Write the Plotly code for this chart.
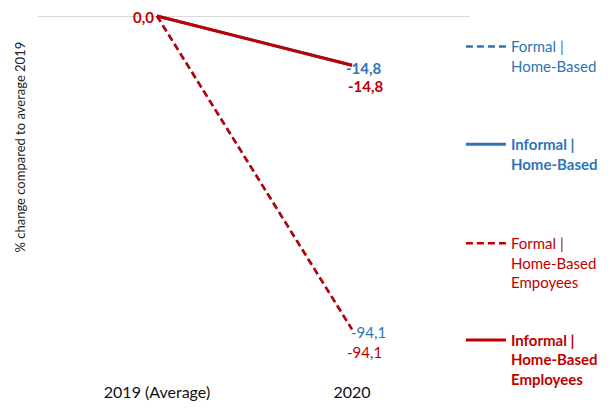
import plotly.graph_objects as go

# data
years = ["2019 (Average)", "2020"]
x_pos = [0, 1]
formal_hb = [0.0, -94.1]
informal_hb = [0.0, -14.8]
formal_hb_emp = [0.0, -94.1]
informal_hb_emp = [0.0, -14.8]

BLUE = "#2E75B6"
RED = "#C00000"
FONT = "Lato"


def fmt(v):
    return f"{v:.1f}".replace(".", ",")


series = [
    # name, values, colour, dash, width, bold, legend id, legend y (paper), label shift
    ("Formal |<br>Home-Based", formal_hb, BLUE, "7px,4px", 2.5, False, "legend", 0.948, (-3, -3)),
    ("Informal |<br>Home-Based", informal_hb, BLUE, "solid", 3, True, "legend2", 0.682, (-8, -3)),
    ("Formal |<br>Home-Based<br>Empoyees", formal_hb_emp, RED, "7px,4px", 2.5, False, "legend3", 0.413, (-7, -23)),
    ("Informal |<br>Home-Based<br>Employees", informal_hb_emp, RED, "solid", 3, True, "legend4", 0.150, (-6, -21)),
]

fig = go.Figure()
for name, vals, col, dash, w, bold, leg, ly, sh in series:
    fig.add_trace(go.Scatter(
        x=x_pos, y=vals, mode="lines", name=f"<b>{name}</b>" if bold else name,
        line=dict(color=col, dash=dash, width=w),
        legend=leg, showlegend=True, hoverinfo="skip",
    ))
    fig.update_layout({leg: dict(
        x=0.979, y=ly, xanchor="left", yanchor="top", valign="top",
        bgcolor="rgba(0,0,0,0)", itemwidth=40,
        font=dict(family=FONT, size=15, color=col),
    )})

# end-point labels
for name, vals, col, dash, w, bold, leg, ly, sh in series:
    txt = fmt(vals[-1])
    fig.add_annotation(
        x=x_pos[-1], y=vals[-1], text=f"<b>{txt}</b>" if bold else txt, showarrow=False,
        xanchor="left", yanchor="middle", xshift=sh[0], yshift=sh[1],
        font=dict(family=FONT, size=15, color=col),
    )

# start label (all series overlap at 0,0)
fig.add_annotation(
    x=x_pos[0], y=informal_hb_emp[0], text="<b>" + fmt(informal_hb_emp[0]) + "</b>",
    showarrow=False, xanchor="right", yanchor="middle", xshift=-1, yshift=-1,
    font=dict(family=FONT, size=15, color=RED),
)

fig.add_annotation(
    xref="paper", yref="paper", x=-0.064, y=0.63,
    text="% change compared to average 2019", textangle=-90, showarrow=False,
    font=dict(family=FONT, size=13, color="#222222"),
)

fig.update_xaxes(
    range=[-0.61, 1.605], tickvals=x_pos, ticktext=years,
    showgrid=False, zeroline=False, showline=False, ticks="",
    ticklabelstandoff=2,
    tickfont=dict(family=FONT, size=16, color="#111111"),
)
fig.update_yaxes(
    range=[-109, 1.5], showgrid=False, showticklabels=False, ticks="",
    zeroline=True, zerolinecolor="#D9D9D9", zerolinewidth=1,
)
fig.update_layout(
    width=606, height=401,
    margin=dict(l=30, r=144, t=3, b=30, autoexpand=False),
    plot_bgcolor="white", paper_bgcolor="white",
    font=dict(family=FONT),
)
fig.write_html("out.html")
